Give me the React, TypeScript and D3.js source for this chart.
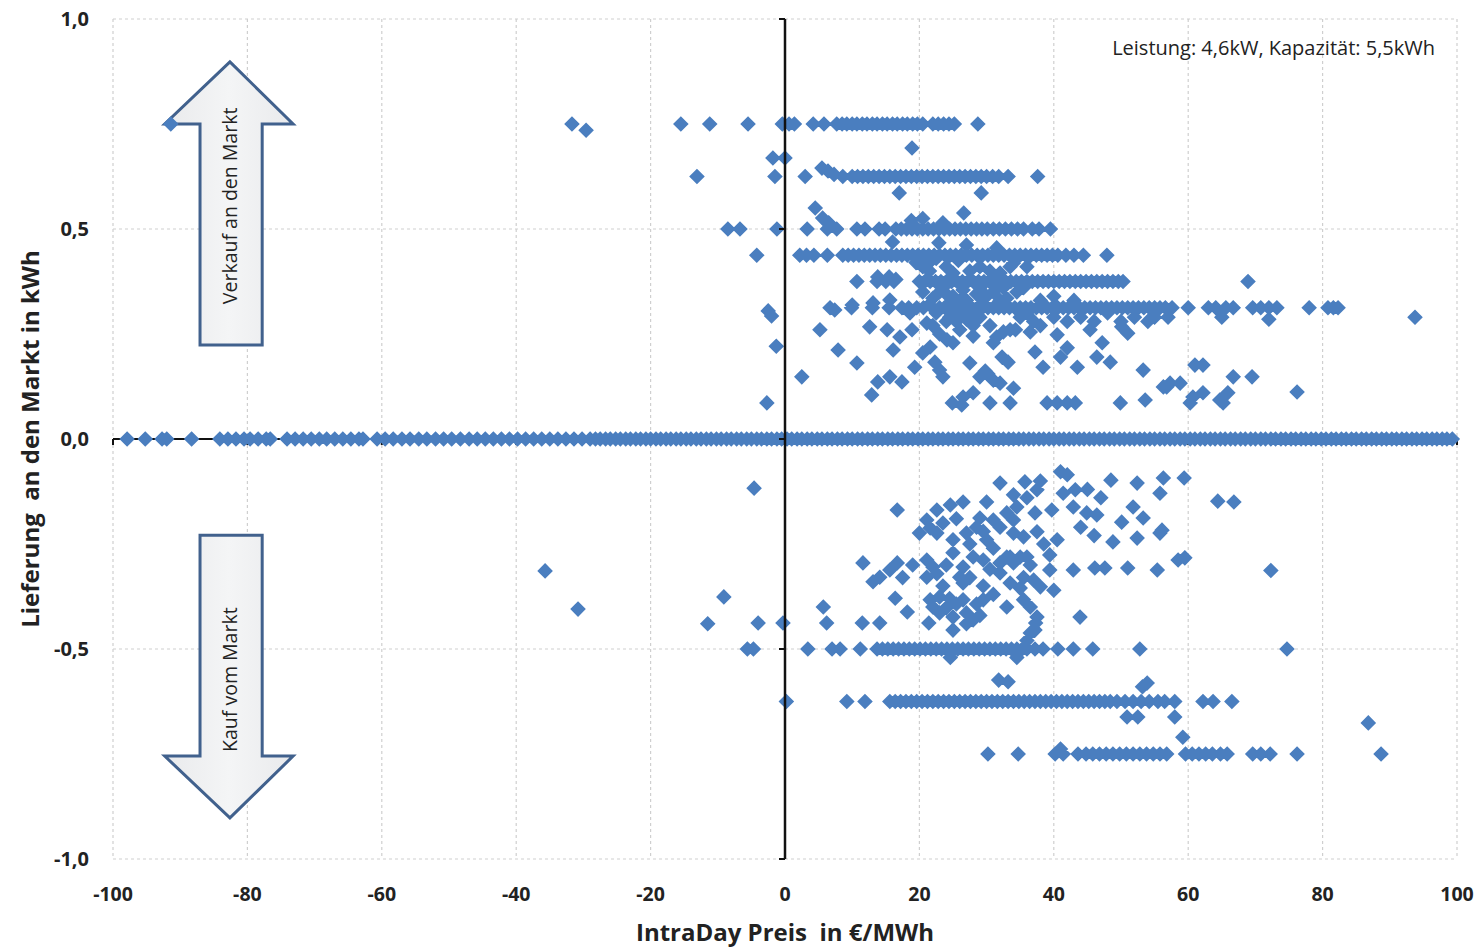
import React from "react";
import * as d3 from "d3";

// ---------- Data (x = IntraDay price €/MWh, y = delivery kWh) ----------
const X_TICKS = [-100, -80, -60, -40, -20, 0, 20, 40, 60, 80, 100];
const Y_TICKS = [-1, -0.5, 0, 0.5, 1];
const Y_TICK_LABELS = ["-1,0", "-0,5", "0,0", "0,5", "1,0"];

const ROW_P075 = [-91.4, -31.7, -15.5, -11.2, -5.5, -0.4, 0.6, 1.4, 4.2, 5.8, 7.7, 8.5, 9.2, 10, 10.7, 11.5, 12.2, 13, 13.7, 14.5, 15.2, 16, 16.7, 17.5, 18.2, 19, 19.7, 20.5, 22, 22.8, 23.6, 24.4, 25.2, 28.7];
const ROW_P0625 = [-13.1, -1.5, 3, 8.6, 10, 10.8, 11.6, 12.4, 13.2, 14, 14.8, 15.6, 16.4, 17.2, 18, 18.8, 19.6, 20.4, 21.2, 22, 22.8, 23.6, 24.4, 25.2, 26, 26.8, 27.6, 28.4, 29.2, 30, 30.9, 31.8, 33.2, 37.6];
const ROW_P05 = [-8.5, -6.7, -1.2, 3.3, 6.3, 7.7, 10.7, 11.9, 14, 14.9, 16.5, 17.3, 18.1, 18.9, 19.7, 20.5, 21.3, 22.1, 22.9, 23.7, 24.5, 25.3, 26.1, 26.9, 27.7, 28.5, 29.3, 30.1, 31, 31.9, 32.8, 33.7, 34.6, 35.5, 36.8, 37.8, 39.5];
const ROW_P04375 = [-4.2, 2.2, 3.2, 4.3, 6.3, 8.6, 9.4, 10.2, 11, 11.8, 12.6, 13.4, 14.2, 15, 15.8, 16.6, 17.4, 18.2, 19, 19.8, 20.6, 21.4, 22.2, 23, 23.8, 24.6, 25.4, 26.2, 27, 27.8, 28.6, 29.4, 30.2, 31, 31.8, 32.6, 33.4, 34.2, 35, 35.8, 36.6, 37.4, 38.2, 39, 39.8, 40.6, 41.8, 43, 44.4, 47.9];
const ROW_P0375 = [10.7, 13.7, 15, 16.2, 20, 20.8, 21.6, 22.4, 23.2, 24, 24.8, 25.6, 26.4, 27.2, 28, 28.8, 29.6, 30.4, 31.2, 32, 32.8, 33.6, 34.4, 35.2, 36, 36.8, 37.6, 38.4, 39.2, 40, 40.8, 41.6, 42.4, 43.2, 44, 44.8, 45.6, 46.4, 47.2, 48, 48.8, 49.6, 50.3, 68.9];
const ROW_P03125 = [6.7, 9.9, 13, 15.5, 17.4, 18.4, 19.6, 20.6, 23, 23.8, 24.6, 25.4, 26.2, 27, 27.8, 28.6, 29.4, 30.2, 31, 31.8, 32.6, 33.4, 34.2, 35, 35.8, 36.6, 37.4, 38.2, 39, 39.8, 40.6, 41.4, 42.2, 43, 43.8, 44.6, 45.4, 46.2, 47, 47.8, 48.6, 49.4, 50.2, 51, 51.8, 52.6, 53.4, 54.2, 55, 55.8, 56.6, 57.6, 60, 63, 64.1, 65.6, 66.7, 69.6, 70.8, 72, 73.2, 78, 80.8, 81.6, 82.3];

const ROW_ZERO = [-97.9, -95.2, -92.7, -92, -88.3, -84.1, -82.9, -81.7, -80.5, -79.6, -78.4, -77.2, -76.6, -74.1, -72.9, -71.7, -70.5, -69.3, -68.2, -67, -65.8, -64.6, -63.4, -62.8, -60.7, -59.5, -58.3, -57, -55.8, -54.5, -53.3, -52, -50.8, -49.6, -48.3, -47, -45.8, -44.6, -43.4, -42.2, -41, -39.8, -38.6, -37.4, -36.2, -35, -33.8, -32.6, -31.4, -30.2,
  -29, -28.2, -27.5, -26.7, -26, -25.2, -24.5, -23.7, -23, -22.2, -21.5, -20.7, -20, -19.2, -18.5, -17.7, -17, -16.2, -15.5, -14.7, -14, -13.2, -12.5, -11.7, -11, -10.2, -9.5, -8.7, -8, -7.2, -6.5, -5.7, -5, -4.2, -3.5, -2.7, -2, -1.2, -0.5, 0.3, 1, 1.8, 2.5, 3.3, 4, 4.8, 5.5, 6.3, 7, 7.8, 8.5, 9.3, 10, 10.8, 11.5, 12.3, 13, 13.8, 14.5, 15.3, 16, 16.8, 17.5, 18.3, 19, 19.8, 20.5, 21.3, 22, 22.8, 23.5, 24.3, 25, 25.8, 26.5, 27.3, 28, 28.8, 29.5, 30.3, 31, 31.8, 32.5, 33.3, 34, 34.8, 35.5, 36.3, 37, 37.8, 38.5, 39.3, 40, 40.8, 41.5, 42.3, 43, 43.8, 44.5, 45.3, 46, 46.8, 47.5, 48.3, 49, 49.8, 50.5, 51.3, 52, 52.8, 53.5, 54.3, 55, 55.8, 56.5, 57.3, 58, 58.8, 59.5, 60.3, 61, 61.8, 62.5, 63.3, 64, 64.8, 65.5, 66.3, 67, 67.8, 68.5, 69.3, 70, 70.8, 71.5, 72.3, 73, 73.8, 74.5, 75.3, 76, 76.8, 77.5, 78.3, 79, 79.8, 80.5, 81.3, 82, 82.8, 83.5, 84.3, 85, 85.8, 86.5, 87.3, 88, 88.8, 89.5, 90.3, 91, 91.8, 92.5, 93.3, 94, 94.8, 95.5, 96.3, 97, 97.8, 98.5, 99.3];

const ROW_M05 = [-5.6, -4.7, 3.4, 7, 8.2, 11.2, 13.7, 14.5, 15.3, 16.1, 16.9, 17.7, 18.5, 19.3, 20.1, 20.9, 21.7, 22.5, 23.3, 24.1, 24.9, 25.7, 26.5, 27.3, 28.1, 28.9, 29.7, 30.5, 31.3, 32.1, 32.9, 33.7, 34.5, 35.3, 36, 37.2, 38.4, 40.6, 42.9, 45.8, 52.8, 74.7];
const ROW_M0625 = [0.2, 9.2, 11.9, 15.6, 16.4, 17.2, 18, 18.8, 19.6, 20.4, 21.2, 22, 22.8, 23.6, 24.4, 25.2, 26, 26.8, 27.6, 28.4, 29.2, 30, 30.8, 31.6, 32.4, 33.2, 34, 34.8, 35.6, 36.4, 37.2, 38, 38.8, 39.6, 40.4, 41.2, 42, 42.8, 43.6, 44.4, 45.2, 46, 46.8, 47.6, 48.4, 49.4, 50.6, 51.8, 53, 54.2, 55.5, 56.5, 58, 62.2, 63.7, 66.5];
const ROW_M075 = [30.2, 34.7, 40.2, 41.4, 43.6, 44.8, 45.8, 46.8, 47.8, 48.8, 49.8, 50.8, 51.8, 52.8, 53.8, 54.8, 55.8, 56.8, 59.6, 60.6, 61.6, 62.6, 63.6, 64.8, 65.8, 69.6, 70.8, 72.2, 76.2, 88.7];

const SCATTER_POS: [number, number][] = [
  [-29.6, 0.735], [-2.5, 0.305], [-2, 0.293], [-1.3, 0.221], [-2.7, 0.086],
  [5.5, 0.645], [6.4, 0.638], [7.3, 0.63], [-1.8, 0.669], [0, 0.669], [18.9, 0.693], [17, 0.586], [29.2, 0.586],
  [4.5, 0.55], [5.6, 0.526], [6.5, 0.515], [16, 0.469], [26.6, 0.538], [18.8, 0.52], [20.5, 0.525], [23.5, 0.515],
  [22.9, 0.467], [21.4, 0.419], [25.8, 0.425], [34, 0.419], [27, 0.462], [31.5, 0.455],
  [2.5, 0.148], [5.2, 0.26], [7.4, 0.307], [7.9, 0.212], [10, 0.319], [10.7, 0.181], [12.6, 0.267], [13.1, 0.324],
  [12.9, 0.105], [13.8, 0.386], [15.5, 0.386], [16.5, 0.38], [13.8, 0.136], [15.6, 0.148], [17.4, 0.136],
  [15.2, 0.26], [15.6, 0.331], [16.1, 0.212], [17.1, 0.243], [18.6, 0.3], [18.9, 0.26], [19.3, 0.171],
  [21.1, 0.276], [20.5, 0.205], [21.6, 0.219], [22.3, 0.183], [23, 0.164], [23.5, 0.148], [24.1, 0.236],
  [25, 0.229], [24.9, 0.086], [26.3, 0.081], [26.5, 0.1], [27.5, 0.181], [28, 0.11], [29, 0.148], [29.8, 0.162],
  [30.2, 0.155], [30.5, 0.086], [31, 0.14], [32, 0.133], [31, 0.229], [31.5, 0.243], [32.3, 0.195], [33.2, 0.183],
  [33.5, 0.26], [34.3, 0.26], [34, 0.121], [33.5, 0.086], [37.2, 0.207], [38.4, 0.171], [39, 0.086], [40.5, 0.086],
  [42, 0.086], [43.2, 0.086], [40.5, 0.248], [41, 0.195], [42, 0.217], [43.5, 0.171], [45.4, 0.26], [46.4, 0.195],
  [47.2, 0.229], [48.4, 0.183], [49.9, 0.086], [50.1, 0.267], [51, 0.252], [53.3, 0.164], [53.6, 0.093],
  [56.3, 0.124], [57.3, 0.133], [56.8, 0.124], [58.8, 0.133], [60.7, 0.1], [62.2, 0.11], [61, 0.176], [62.2, 0.176],
  [66.7, 0.148], [69.5, 0.148], [76.2, 0.112], [60.3, 0.086], [65.2, 0.086], [64.7, 0.093], [65.9, 0.11],
  [20.5, 0.41], [21.5, 0.4], [23, 0.35], [24, 0.345], [25, 0.34], [26, 0.33], [24.5, 0.29], [25.5, 0.28],
  [27, 0.285], [28, 0.27], [26, 0.26], [27.5, 0.3], [29, 0.29], [30, 0.34], [31, 0.35], [32, 0.33], [28.5, 0.345],
  [22.5, 0.3], [21.5, 0.32], [35, 0.29], [36, 0.3], [37, 0.28], [38, 0.27], [34.5, 0.35], [35.5, 0.36],
  [40, 0.29], [42, 0.28], [44, 0.29], [46, 0.28], [50, 0.28], [52, 0.29], [54, 0.28], [55, 0.29], [57, 0.29],
  [43, 0.33], [48, 0.3], [65, 0.29], [72, 0.285], [93.75, 0.29],
  [19.5, 0.42], [22.5, 0.43], [24, 0.41], [25, 0.395], [27.5, 0.4], [29, 0.41], [30.5, 0.4], [32, 0.395],
  [33.5, 0.41], [36, 0.41], [23.5, 0.36], [26.5, 0.355], [29, 0.36], [32.5, 0.36], [20.5, 0.35], [22, 0.335],
  [24.5, 0.325], [27, 0.33], [29.5, 0.325], [33, 0.335], [38, 0.33], [40, 0.34], [24, 0.28], [26.5, 0.3],
  [22, 0.27], [30.5, 0.27], [32.5, 0.255], [36.5, 0.255], [23, 0.25], [28, 0.245],
];

const SCATTER_NEG: [number, number][] = [
  [-35.7, -0.314], [-30.8, -0.405], [-11.5, -0.44], [-9.1, -0.376], [-4.6, -0.117], [-4, -0.438], [-0.3, -0.438],
  [41, -0.078], [42, -0.085], [32, -0.105], [35.7, -0.102], [37.5, -0.121], [41.4, -0.129], [43.2, -0.121],
  [48.5, -0.098], [52.4, -0.105], [56.3, -0.093], [55.8, -0.129], [59.4, -0.093], [16.7, -0.169], [22.6, -0.169],
  [24.6, -0.157], [26.5, -0.15], [29, -0.188], [31, -0.193], [33, -0.176], [34.5, -0.162], [34, -0.133],
  [37.2, -0.176], [39.7, -0.169], [42.9, -0.162], [44.9, -0.176], [46.4, -0.181], [51.8, -0.162], [53.3, -0.188],
  [56.1, -0.217], [50.1, -0.198], [21.1, -0.193], [20, -0.224], [21.6, -0.212], [22.6, -0.224], [25, -0.24],
  [27, -0.224], [28.5, -0.21], [30, -0.24], [32, -0.21], [34, -0.193], [34, -0.224], [35.5, -0.233], [37.5, -0.221],
  [40.5, -0.24], [48.8, -0.245], [52.4, -0.236], [55.8, -0.224], [25, -0.271], [28, -0.281], [29.5, -0.288],
  [33, -0.281], [35, -0.281], [39.4, -0.276], [11.6, -0.295], [16.7, -0.295], [15.6, -0.312], [14.1, -0.329],
  [13.1, -0.34], [21.1, -0.288], [22, -0.305], [21.1, -0.329], [22.6, -0.321], [26.5, -0.305], [26, -0.329],
  [26.5, -0.343], [32, -0.295], [32, -0.319], [33.5, -0.281], [34, -0.295], [36, -0.281], [33.5, -0.343],
  [35, -0.355], [37, -0.336], [38, -0.352], [39.4, -0.312], [40, -0.36], [42.9, -0.312], [46.1, -0.307],
  [47.6, -0.307], [51, -0.307], [55.4, -0.312], [58.5, -0.288], [59.5, -0.283], [72.3, -0.313], [64.4, -0.148],
  [66.8, -0.15], [5.7, -0.4], [6.2, -0.438], [11.5, -0.438], [14.1, -0.438], [16.4, -0.379], [18.2, -0.412],
  [21.6, -0.383], [23, -0.376], [24, -0.402], [25.5, -0.393], [26.5, -0.383], [23, -0.414], [25, -0.424],
  [27, -0.414], [28.5, -0.393], [29.5, -0.383], [21.4, -0.438], [25, -0.455], [28, -0.431], [35.5, -0.383],
  [36.5, -0.4], [37.5, -0.424], [37.3, -0.438], [36.5, -0.462], [43.9, -0.424], [36, -0.48], [37.2, -0.455],
  [24.6, -0.52], [34.5, -0.52], [31.8, -0.574], [33.2, -0.578], [53.9, -0.581], [53.2, -0.59], [50.9, -0.662],
  [52.5, -0.662], [58, -0.662], [59.2, -0.71], [86.8, -0.676], [41, -0.738],
  [23.5, -0.2], [25.5, -0.19], [27.5, -0.25], [29.5, -0.22], [31, -0.26], [24, -0.3], [27.5, -0.33], [29.5, -0.35],
  [30.5, -0.31], [23.5, -0.35], [24.5, -0.38], [31, -0.37], [33, -0.4], [22, -0.4], [27, -0.44], [29, -0.42],
  [36.5, -0.3], [38.5, -0.25], [44, -0.21], [46, -0.23], [30, -0.15], [36, -0.14], [38, -0.1], [45, -0.12],
  [47, -0.14], [35.5, -0.33], [17.5, -0.33], [19, -0.3],
];

const ANNOTATION = "Leistung: 4,6kW, Kapazität: 5,5kWh";
const X_TITLE = "IntraDay Preis  in €/MWh";
const Y_TITLE = "Lieferung  an den Markt in kWh";
const SELL_LABEL = "Verkauf an den Markt";
const BUY_LABEL = "Kauf vom Markt";

// arrow outlines in data units
const ARROW_UP: [number, number][] = [[-82.6, 0.898], [-73.2, 0.75], [-77.8, 0.75], [-77.8, 0.224], [-87.05, 0.224], [-87.05, 0.75], [-92.3, 0.75]];
const ARROW_DOWN: [number, number][] = [[-82.6, -0.902], [-73.2, -0.755], [-77.8, -0.755], [-77.8, -0.229], [-87.05, -0.229], [-87.05, -0.755], [-92.3, -0.755]];

const W = 1481;
const H = 948;
const FONT = "'Open Sans', 'DejaVu Sans', sans-serif";
const BLUE = "#4a7ebf";

export default function App() {
  const x = d3.scaleLinear().domain([-100, 100]).range([113, 1457]);
  const y = d3.scaleLinear().domain([-1, 1]).range([859, 19]);

  const rows: [number[], number][] = [
    [ROW_P075, 0.75], [ROW_P0625, 0.625], [ROW_P05, 0.5], [ROW_P04375, 0.4375], [ROW_P0375, 0.375],
    [ROW_P03125, 0.3125], [ROW_ZERO, 0], [ROW_M05, -0.5], [ROW_M0625, -0.625], [ROW_M075, -0.75],
  ];
  const points: [number, number][] = [];
  rows.forEach(([xs, yv]) => xs.forEach((xv) => points.push([xv, yv])));
  SCATTER_POS.forEach((p) => points.push(p));
  SCATTER_NEG.forEach((p) => points.push(p));

  const r = 7.8;
  const diamondPath = points
    .map(([a, b]) => {
      const cx = x(a), cy = y(b);
      return `M${cx},${cy - r}L${cx + r},${cy}L${cx},${cy + r}L${cx - r},${cy}Z`;
    })
    .join("");

  const line = d3.line<[number, number]>().x((d) => x(d[0])).y((d) => y(d[1]));
  const upPath = line(ARROW_UP) + "Z";
  const downPath = line(ARROW_DOWN) + "Z";

  return (
    <svg width={W} height={H} style={{ position: "absolute", left: 0, top: 0, background: "#fff" }}>
      <defs>
        <linearGradient id="arrFill" x1="0" y1="0" x2="1" y2="0">
          <stop offset="0" stopColor="#e9eaec" />
          <stop offset="0.5" stopColor="#f4f5f6" />
          <stop offset="1" stopColor="#e9eaec" />
        </linearGradient>
      </defs>
      {/* grid */}
      {X_TICKS.map((t) => (
        <line key={"gx" + t} x1={x(t)} x2={x(t)} y1={y(1)} y2={y(-1)} stroke="#cfcfcf" strokeWidth={1.2} strokeDasharray="3,3" />
      ))}
      {Y_TICKS.map((t) => (
        <line key={"gy" + t} x1={x(-100)} x2={x(100)} y1={y(t)} y2={y(t)} stroke="#cfcfcf" strokeWidth={1.2} strokeDasharray="3,3" />
      ))}
      {/* x axis (under points) */}
      <line x1={x(-100)} x2={x(100)} y1={y(0)} y2={y(0)} stroke="#111" strokeWidth={2} />
      {X_TICKS.map((t) => (
        <line key={"xt" + t} x1={x(t)} x2={x(t)} y1={y(0)} y2={y(0) + 6} stroke="#111" strokeWidth={2} />
      ))}
      {/* arrows */}
      <path d={upPath} fill="url(#arrFill)" stroke="#41618d" strokeWidth={3} strokeLinejoin="miter" />
      <path d={downPath} fill="url(#arrFill)" stroke="#41618d" strokeWidth={3} strokeLinejoin="miter" />
      <text transform={`translate(${x(-82.6) + 7},${y(0.555)}) rotate(-90)`} textAnchor="middle" fontFamily={FONT} fontSize={19.5} fill="#222">
        {SELL_LABEL}
      </text>
      <text transform={`translate(${x(-82.6) + 7},${y(-0.573)}) rotate(-90)`} textAnchor="middle" fontFamily={FONT} fontSize={19.5} fill="#222">
        {BUY_LABEL}
      </text>
      {/* points */}
      <path d={diamondPath} fill={BLUE} />
      {/* y axis (over points) */}
      <line x1={x(0)} x2={x(0)} y1={y(1)} y2={y(-1)} stroke="#111" strokeWidth={2.5} />
      {Y_TICKS.map((t) => (
        <line key={"yt" + t} x1={x(0) - 6} x2={x(0)} y1={y(t)} y2={y(t)} stroke="#111" strokeWidth={2} />
      ))}
      {/* tick labels */}
      {X_TICKS.map((t) => (
        <text key={"xl" + t} x={x(t)} y={901} textAnchor="middle" fontFamily={FONT} fontWeight={700} fontSize={19.5} fill="#222">
          {String(t)}
        </text>
      ))}
      {Y_TICKS.map((t, i) => (
        <text key={"yl" + t} x={89} y={y(t) + 7} textAnchor="end" fontFamily={FONT} fontWeight={700} fontSize={20} fill="#222">
          {Y_TICK_LABELS[i]}
        </text>
      ))}
      {/* titles */}
      <text x={x(0)} y={941} textAnchor="middle" fontFamily={FONT} fontWeight={700} fontSize={24} fill="#222" style={{ whiteSpace: "pre" }}>
        {X_TITLE}
      </text>
      <text transform={`translate(39,${y(0)}) rotate(-90)`} textAnchor="middle" fontFamily={FONT} fontWeight={700} fontSize={24} fill="#222" style={{ whiteSpace: "pre" }}>
        {Y_TITLE}
      </text>
      <text x={1435} y={55} textAnchor="end" fontFamily={FONT} fontSize={20} fill="#222">
        {ANNOTATION}
      </text>
    </svg>
  );
}
